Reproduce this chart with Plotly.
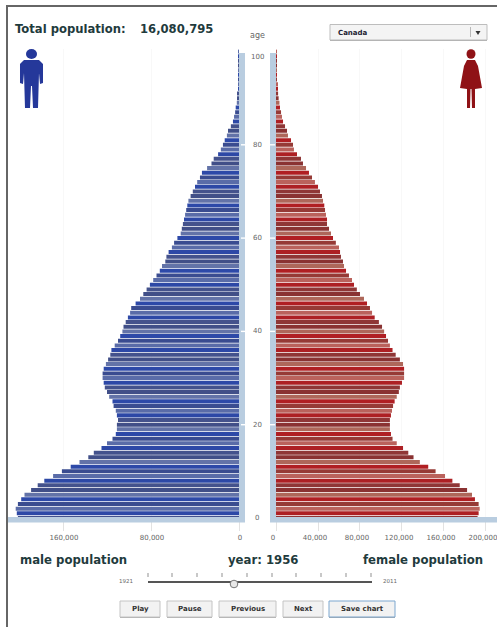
import numpy as np
import plotly.graph_objects as go

W, H = 497, 627
AGES = list(range(101))
MALE_K = [201, 202, 203, 201, 198, 195, 189, 183, 177, 169, 161, 153, 145, 137, 132, 125, 120, 115, 112, 111,
          111, 110, 111, 112, 114, 115, 118, 120, 122, 123, 124, 124, 123, 121, 119, 117, 116, 113, 110, 108,
          106, 105, 103, 101, 99, 98, 94, 90, 87, 84, 81, 78, 75, 72, 70, 67, 66, 64, 61, 59,
          56, 53, 52, 51, 50, 49, 48, 47, 46, 44, 42, 40, 38, 35.5, 33.7, 29, 25, 23, 19, 16.5,
          14.6, 13, 11, 10, 7.4, 5.5, 4.5, 3.5, 3, 2, 1.5, 1.1, 0.8, 0.6, 0.4, 0.3, 0.2, 0.12, 0.08, 0.05, 0.03]
FEMALE_K = [192, 193, 194, 193, 189.5, 186.7, 182, 175, 168, 161, 152, 145, 137, 131, 126, 121, 115, 111, 109.5, 108.5,
            108.5, 108.5, 109.5, 110.5, 111.5, 113, 115, 117, 118, 120, 122, 122, 122, 121, 118, 114, 111, 108.5, 106.7, 104.8,
            103, 101, 98, 94, 91.5, 89.5, 86.7, 83.8, 80, 77, 74.3, 72.4, 69.5, 66.7, 64.8, 63.8, 61.9, 61, 60, 57,
            54.3, 52.4, 50.5, 48.6, 48.6, 47.6, 46.7, 46, 44.8, 43.8, 41.9, 40, 37.1, 34.3, 31.4, 28.6, 25.7, 23.8, 20, 17.1,
            16.2, 14.3, 11.4, 10.5, 8.6, 6.7, 5.7, 4.8, 3.8, 3.3, 2.5, 2, 1.5, 1.1, 0.8, 0.5, 0.35, 0.25, 0.15, 0.1, 0.06]
MALE_TICKS = [0, 80000, 160000]
FEMALE_TICKS = [0, 40000, 80000, 120000, 160000, 200000]
AGE_TICKS = [0, 20, 40, 60, 80, 100]
TOTAL = "16,080,795"
YEAR = 1956
COUNTRY = "Canada"
BUTTONS = ["Play", "Pause", "Previous", "Next", "Save chart"]

BLUES = ["#44528c", "#2d48a6", "#5a6ca8", "#3a4c90", "#2d49a8", "#6373a8", "#414f88"]
REDS = ["#8f3636", "#ad2024", "#ba625c", "#963a36", "#b01f23", "#ae675a", "#8a3232"]

px = lambda x: x / W
py = lambda y: 1 - y / H

male = np.array(MALE_K) * 1000
female = np.array(FEMALE_K) * 1000
Y0, YSTEP = 518.0, 4.665
dom = [py(Y0 + 0.5 * YSTEP), py(Y0 - 100.5 * YSTEP)]

fig = go.Figure()
fig.add_bar(y=AGES, x=male, orientation="h", xaxis="x", yaxis="y", width=0.86,
            marker=dict(color=[BLUES[i % 7] for i in AGES], line_width=0), name="male")
fig.add_bar(y=AGES, x=female, orientation="h", xaxis="x2", yaxis="y2", width=0.86,
            marker=dict(color=[REDS[i % 7] for i in AGES], line_width=0), name="female")

shapes, ann = [], []


def T(x, y, s, size=8, color="#555", bold=False, anchor="center", family="DejaVu Sans"):
    ann.append(dict(xref="paper", yref="paper", x=px(x), y=py(y), text=f"<b>{s}</b>" if bold else s,
                    showarrow=False, xanchor=anchor, yanchor="middle", align="left",
                    font=dict(size=size, color=color, family=family)))


def R(x0, y0, x1, y1, fill, line=None, lw=1):
    shapes.append(dict(type="rect", xref="paper", yref="paper", x0=px(x0), x1=px(x1), y0=py(y0), y1=py(y1),
                       fillcolor=fill, line=dict(color=line or fill, width=lw if line else 0), layer="above"))


def P(points, fill):
    d = "M" + " L".join(f"{px(x):.5f},{py(y):.5f}" for x, y in points) + " Z"
    shapes.append(dict(type="path", xref="paper", yref="paper", path=d, fillcolor=fill, line=dict(width=0), layer="above"))


def C(cx, cy, rx, ry, fill, line=None):
    shapes.append(dict(type="circle", xref="paper", yref="paper", x0=px(cx - rx), x1=px(cx + rx),
                       y0=py(cy + ry), y1=py(cy - ry), fillcolor=fill,
                       line=dict(color=line or fill, width=1 if line else 0), layer="above"))


# frame
R(6, 5, 8, 627, "#666666")
R(6, 5, 497, 7, "#666666")

# age bands
BAND = "#b9cde0"
R(239, 53, 245, 518, BAND)
R(270, 53, 276, 518, BAND)
R(8, 517, 245, 522.5, BAND)
R(270, 517, 497, 522.5, BAND)
for a in AGE_TICKS[1:-1]:
    y = Y0 - a * YSTEP
    R(241, y - 0.7, 246, y + 0.7, "#ffffff")
    R(270, y - 0.7, 275, y + 0.7, "#ffffff")
for a in AGE_TICKS:
    T(257, (Y0 - a * YSTEP) + (5 if a == 100 else 0), str(a), size=7, color="#666")
T(257, 36, "age", size=8, color="#666")

# header
TXT = "#1f3b3d"
T(13, 29, "Total population:", size=11.6, color=TXT, bold=True, anchor="left")
T(138, 29, TOTAL, size=11.6, color=TXT, bold=True, anchor="left")

# dropdown
R(330, 25.5, 487, 41, "#aaaaaa")
R(330, 24.5, 487, 40, "#f4f4f4", "#bdbdbd")
R(470, 27, 470.8, 37, "#aaaaaa")
T(336, 32.5, COUNTRY, size=7, color="#223", bold=True, anchor="left")
P([(475.5, 31), (480.5, 31), (478, 35)], "#333333")

# man icon
BL = "#25389a"
C(31.5, 54, 5.5, 5, BL)
P([(24, 60), (39, 60), (43, 64), (43, 83), (40, 84), (39, 73), (38, 108), (33, 108), (32, 86), (31, 86), (30, 108),
   (25, 108), (24, 73), (23, 84), (20, 83), (20, 64)], BL)
# woman icon
RD = "#8f1216"
C(471, 54, 4.5, 4.8, RD)
P([(467, 60), (475, 60), (478, 66), (482, 88), (475, 89), (475, 108), (472, 108), (471.5, 89), (470.5, 89), (470, 108),
   (467, 108), (467, 89), (460, 88), (464, 66)], RD)

# bottom labels
T(18, 560, "male population", size=11.7, color=TXT, bold=True, anchor="left")
T(263, 560, f"year: {YEAR}", size=11.7, color=TXT, bold=True)
T(361, 560, "female population", size=11.7, color=TXT, bold=True, anchor="left")

# slider
T(126, 581, "1921", size=5.5, color="#666")
T(390, 581, "2011", size=5.5, color="#666")
R(148, 581, 372, 583, "#555555")
for x in [148, 172, 197, 222, 247, 272, 296, 321, 346, 371]:
    R(x - 0.4, 573, x + 0.4, 577, "#777777")
C(234, 584, 3.8, 3.8, "#e8e8e8", "#777777")

# buttons
BX = [(120, 160), (167, 212), (219, 276), (283, 323), (329, 395)]
for name, (a, b) in zip(BUTTONS, BX):
    R(a, 602, b, 618, "#aaaaaa")
    R(a, 601, b, 617, "#f2f2f2", "#7da7cf" if name == "Save chart" else "#c4c4c4")
    T((a + b) / 2, 609, name, size=7, color="#333", bold=True)

AX = dict(showline=False, zeroline=False, showgrid=True, gridcolor="#f8f8f8", gridwidth=1, ticks="outside",
          ticklen=10, tickcolor="#e2e2e2", tickformat=",", tickfont=dict(size=7, color="#666", family="DejaVu Sans"),
          anchor="y", fixedrange=True, automargin=False, ticklabeloverflow="allow")
fig.update_layout(
    width=W, height=H, margin=dict(l=0, r=0, t=0, b=0), autosize=False, showlegend=False,
    paper_bgcolor="white", plot_bgcolor="white", barmode="overlay",
    xaxis=dict(AX, domain=[px(8), px(239)], range=[210000, 0], tickvals=MALE_TICKS, ticklabelshift=-1),
    xaxis2=dict(AX, domain=[px(276), 1], range=[0, 210500], tickvals=FEMALE_TICKS, anchor="y2", ticklabelshift=-3),
    yaxis=dict(domain=dom, range=[-0.5, 100.5], visible=False, anchor="x", automargin=False),
    yaxis2=dict(domain=dom, range=[-0.5, 100.5], visible=False, anchor="x2", automargin=False),
    shapes=shapes, annotations=ann,
)
fig.write_html("out.html", config={"displayModeBar": False}, post_script="document.body.style.margin='0';")
